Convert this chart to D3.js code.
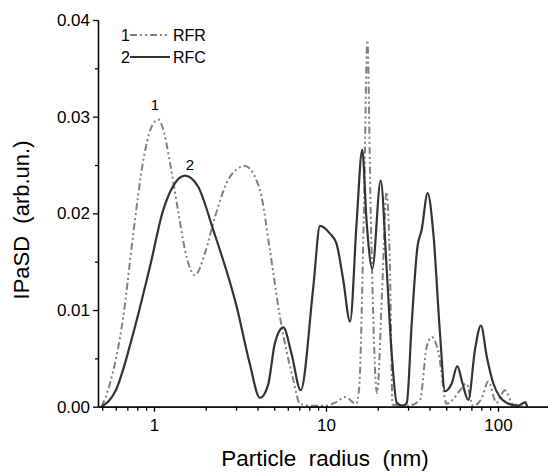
<!DOCTYPE html>
<html>
<head>
<meta charset="utf-8">
<script src="https://cdn.jsdelivr.net/npm/d3@7"></script>
<style>
  body { margin: 0; background: #fff; }
  svg { display: block; font-family: "Liberation Sans", Arial, sans-serif; }
  .axis path, .axis line { stroke: #000; stroke-width: 1.3; }
  .axis text { font-size: 17px; fill: #000; font-family: "Liberation Sans", Arial, sans-serif; }
</style>
</head>
<body>
<svg width="548" height="472"></svg>
<script>
// RFR (curve 1), dash-dot-dot
var rfrRadius = [0.497, 0.555, 0.663, 0.758, 0.867, 0.96, 1.06, 1.15, 1.24, 1.38, 1.515, 1.73, 1.98, 2.26, 2.77, 3.38, 4.13, 4.72, 5.4, 6.45, 7.06, 8.5, 10, 11.5, 12.9, 15, 15.6, 16.6, 17.4, 18.2, 19.8, 21.2, 22.5, 23.5, 24.4, 30, 35.2, 38.5, 41.2, 45, 50.3, 55, 60.1, 65.5, 71.5, 80, 87.9, 98, 109.7, 123, 135, 147];
var rfrValue  = [0, 0.0024, 0.0093, 0.0179, 0.0255, 0.0288, 0.0297, 0.0282, 0.0252, 0.0203, 0.0162, 0.0136, 0.0159, 0.0196, 0.0238, 0.0249, 0.0224, 0.0162, 0.0093, 0.0028, 0.0003, 0.0001, 0.0001, 0.0005, 0.001, 0.0003, 0.002, 0.02, 0.0379, 0.02, 0.0014, 0.012, 0.0222, 0.015, 0.0002, 0.0001, 0.0007, 0.0062, 0.0072, 0.0057, 0.0003, 0.0008, 0.0017, 0.0024, 0.0001, 0.0008, 0.0026, 0.0004, 0.0017, 0.0002, 0.0002, 0.0005];

// RFC (curve 2), solid
var rfcRadius = [0.497, 0.6, 0.758, 0.948, 1.13, 1.3, 1.515, 1.8, 2.21, 3.03, 3.6, 4.13, 4.6, 5.05, 5.65, 6.3, 7.13, 8.44, 9.23, 10.55, 11.5, 12.6, 13.8, 15.1, 16.25, 17.2, 18.6, 20.8, 22.5, 24.1, 25.8, 28, 29.5, 31.5, 34, 36, 39, 42.1, 46, 49.2, 53.8, 58, 62, 67.2, 73.5, 79.6, 86, 94, 112, 130, 143.6, 148];
var rfcValue  = [0, 0.0017, 0.0076, 0.0145, 0.0203, 0.0229, 0.0239, 0.0228, 0.0183, 0.0103, 0.0045, 0.0009, 0.0022, 0.0066, 0.0082, 0.0055, 0.0017, 0.0124, 0.0187, 0.0179, 0.0169, 0.0131, 0.0088, 0.0193, 0.0266, 0.0193, 0.0143, 0.0234, 0.0145, 0.0055, 0.0004, 0.0001, 0.0004, 0.0086, 0.0165, 0.0183, 0.0221, 0.0179, 0.0076, 0.0016, 0.0024, 0.0042, 0.0025, 0.0007, 0.0059, 0.0084, 0.0052, 0.0024, 0.0004, 0.0001, 0.00045, 0];

var xMajorTicks = [1, 10, 100];
var xMinorTicks = [0.5, 0.6, 0.7, 0.8, 0.9, 2, 3, 4, 5, 6, 7, 8, 9, 20, 30, 40, 50, 60, 70, 80, 90];
var yMajorTicks = [0, 0.01, 0.02, 0.03, 0.04];
var yMinorTicks = [0.005, 0.015, 0.025, 0.035];

var svg = d3.select("svg");

var x = d3.scaleLog().domain([0.4727, 195.3]).range([98, 548]);
var y = d3.scaleLinear().domain([0, 0.04]).range([406.7, 20]);

var rfr = rfrRadius.map(function(r, i) { return [r, rfrValue[i]]; });
var rfc = rfcRadius.map(function(r, i) { return [r, rfcValue[i]]; });

var line = d3.line()
    .x(function(d) { return x(d[0]); })
    .y(function(d) { return y(d[1]); })
    .curve(d3.curveMonotoneX);

// curves
svg.append("path")
    .datum(rfr)
    .attr("d", line)
    .attr("fill", "none")
    .attr("stroke", "#808080")
    .attr("stroke-width", 2)
    .attr("stroke-dasharray", "7,3,2,3,2,3");

svg.append("path")
    .datum(rfc)
    .attr("d", line)
    .attr("fill", "none")
    .attr("stroke", "#333")
    .attr("stroke-width", 2.2);

// axes
svg.append("g")
    .attr("class", "axis")
    .attr("transform", "translate(0," + y(0) + ")")
    .call(d3.axisBottom(x).tickValues(xMinorTicks).tickFormat("").tickSize(4).tickSizeOuter(0));

svg.append("g")
    .attr("class", "axis")
    .attr("transform", "translate(0," + y(0) + ")")
    .call(d3.axisBottom(x).tickValues(xMajorTicks).tickFormat(d3.format("d")).tickSize(5).tickPadding(7).tickSizeOuter(0));

svg.append("g")
    .attr("class", "axis")
    .attr("transform", "translate(" + x.range()[0] + ",0)")
    .call(d3.axisLeft(y).tickValues(yMinorTicks).tickFormat("").tickSize(3).tickSizeOuter(0));

svg.append("g")
    .attr("class", "axis")
    .attr("transform", "translate(" + x.range()[0] + ",0)")
    .call(d3.axisLeft(y).tickValues(yMajorTicks).tickFormat(d3.format(".2f")).tickSize(5).tickPadding(3).tickSizeOuter(0));

// axis titles
svg.append("text")
    .attr("x", 325)
    .attr("y", 466)
    .attr("text-anchor", "middle")
    .style("font-size", "22.5px")
    .style("white-space", "pre")
    .text("Particle  radius  (nm)");

svg.append("text")
    .attr("transform", "translate(29,220) rotate(-90)")
    .attr("text-anchor", "middle")
    .style("font-size", "22px")
    .style("white-space", "pre")
    .text("IPaSD  (arb.un.)");

// legend
var legend = [
    {num: "1", name: "RFR", dash: "7,3,2,3,2,3", color: "#808080"},
    {num: "2", name: "RFC", dash: null, color: "#333"}
];
var lg = svg.append("g").selectAll("g")
    .data(legend)
    .enter().append("g")
    .attr("transform", function(d, i) { return "translate(0," + (41 + i * 22) + ")"; });

lg.append("text").attr("x", 121).style("font-size", "16px").text(function(d) { return d.num; });
lg.append("line")
    .attr("x1", 130).attr("x2", 170).attr("y1", -6).attr("y2", -6)
    .attr("stroke", function(d) { return d.color; })
    .attr("stroke-width", 2)
    .attr("stroke-dasharray", function(d) { return d.dash; });
lg.append("text").attr("x", 173).style("font-size", "16px").text(function(d) { return d.name; });

// peak labels
svg.append("text").attr("x", 155).attr("y", 110).attr("text-anchor", "middle").style("font-size", "15px").text("1");
svg.append("text").attr("x", 190).attr("y", 170).attr("text-anchor", "middle").style("font-size", "15px").text("2");
</script>
</body>
</html>
